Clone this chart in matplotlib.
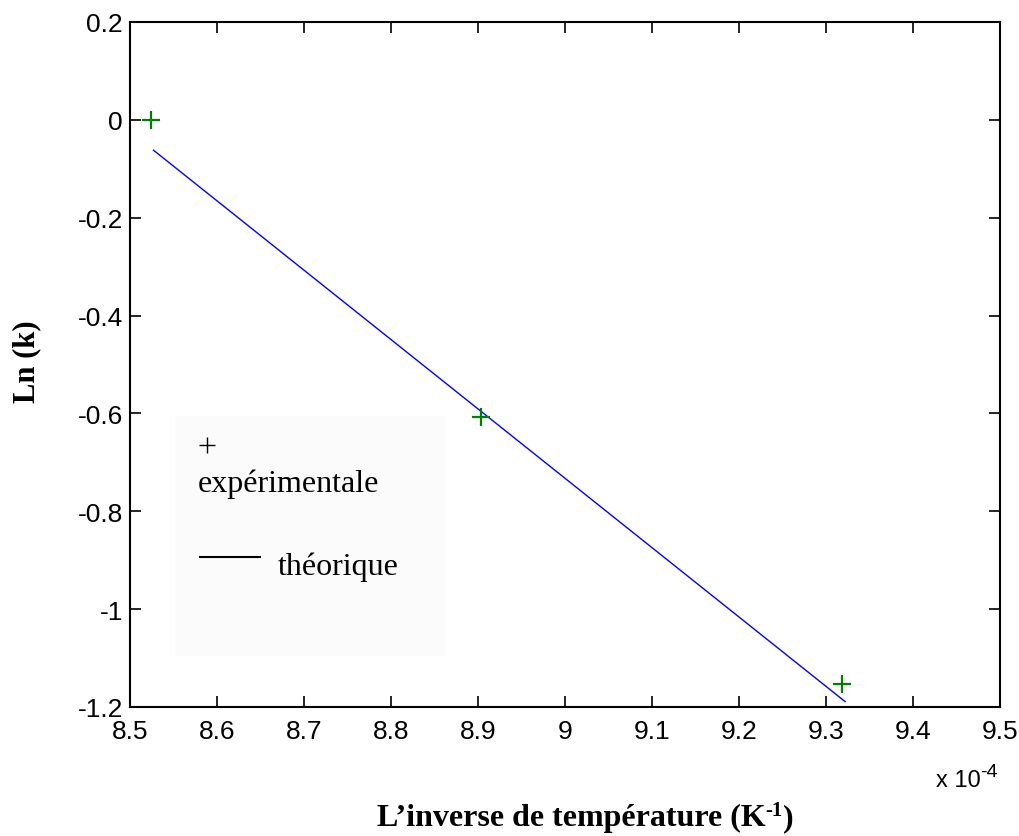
import matplotlib
matplotlib.use("Agg")
import matplotlib.pyplot as plt
from matplotlib.patches import Rectangle

# inverse temperature in units of 1e-4 K^-1
inv_temp = [8.524, 8.904, 9.318]
ln_k = [0.0, -0.607, -1.153]

# theoretical straight line (end points)
fit_x = [8.527, 9.322]
fit_y = [-0.062, -1.189]

xticks = [8.5, 8.6, 8.7, 8.8, 8.9, 9.0, 9.1, 9.2, 9.3, 9.4, 9.5]
yticks = [-1.2, -1.0, -0.8, -0.6, -0.4, -0.2, 0.0, 0.2]

W, H = 1019, 837
fig = plt.figure(figsize=(W / 100, H / 100), dpi=100)
ax = fig.add_axes([130 / W, 1 - 708 / H, 870 / W, 685 / H])

ax.plot(fit_x, fit_y, color="#0000ff", lw=1.0)
ax.plot(inv_temp, ln_k, ls="none", marker="+", color="#008000",
        markersize=13, markeredgewidth=1.6)

ax.set_xlim(8.5, 9.5)
ax.set_ylim(-1.2, 0.2)
ax.set_xticks(xticks)
ax.set_yticks(yticks)
ax.set_xticklabels([f"{v:g}" for v in xticks])
ax.set_yticklabels([f"{v:g}" for v in yticks])
ax.tick_params(direction="in", length=8, width=1.2, top=True, right=True,
               labelsize=19)
ax.tick_params(axis="x", pad=9)
ax.tick_params(axis="y", pad=5)
for lab in ax.get_xticklabels() + ax.get_yticklabels():
    lab.set_family("Liberation Sans")
for sp in ax.spines.values():
    sp.set_linewidth(1.5)

renderer = fig.canvas.get_renderer()


def run_of_text(pieces, x_px, base_px, align="left"):
    """Place text pieces side by side; each piece is (text, size, rise_px, kw)."""
    widths = []
    for s, size, rise, kw in pieces:
        t = fig.text(0, 0, s, fontsize=size, **kw)
        widths.append(t.get_window_extent(renderer).width)
        t.remove()
    total = sum(widths)
    if align == "center":
        x_px -= total / 2
    elif align == "right":
        x_px -= total
    for (s, size, rise, kw), w in zip(pieces, widths):
        fig.text(x_px / W, 1 - (base_px - rise) / H, s, fontsize=size,
                 va="baseline", ha="left", **kw)
        x_px += w


sans = dict(family="Liberation Sans")
serif_b = dict(family="Liberation Serif", fontweight="bold")

# offset text of the x axis
run_of_text([("x 10", 17, 0, sans), ("-4", 14, 10, sans)], 998, 787, "right")

# legend drawn by hand
ax.add_patch(Rectangle((0.052, 0.075), 0.31, 0.35, transform=ax.transAxes,
                       facecolor="#fbfbfb", edgecolor="none", zorder=0))
ax.plot([0.0885], [0.3825], transform=ax.transAxes, marker="+", color="black",
        markersize=12, markeredgewidth=1.0)
ax.text(0.0782, 0.3153, "expérimentale", transform=ax.transAxes, ha="left",
        va="baseline", fontsize=23, family="Liberation Serif")
ax.plot([0.0805, 0.149], [0.219, 0.219], transform=ax.transAxes,
        color="black", lw=1.5)
ax.text(0.170, 0.194, "théorique", transform=ax.transAxes, ha="left",
        va="baseline", fontsize=23, family="Liberation Serif")

fig.text(27 / W, 1 - 362 / H, "Ln (k)", rotation=90, ha="center",
         va="center", fontsize=22, fontweight="bold", family="Liberation Serif")
run_of_text([("L’inverse de température (K", 23, 0, serif_b),
             ("-1", 15, 10, serif_b),
             (")", 23, 0, serif_b)], 585, 826, "center")

fig.savefig("out.png", dpi=100)
